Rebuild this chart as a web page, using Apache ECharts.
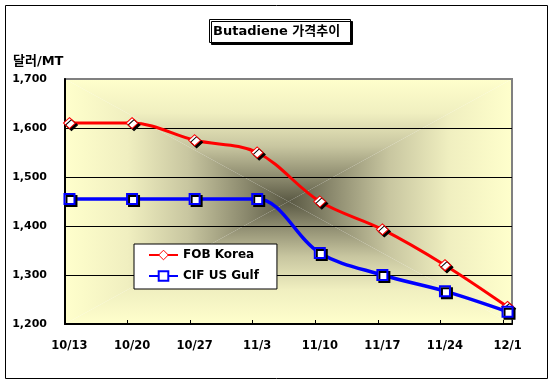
<!DOCTYPE html>
<html>
<head>
<meta charset="utf-8">
<script src="https://cdn.jsdelivr.net/npm/echarts@6/dist/echarts.min.js"></script>
<style>
  html, body { margin: 0; padding: 0; background: #fff; }
  #chart { width: 553px; height: 387px; }
</style>
</head>
<body>
<div id="chart"></div>
<script>
// ---- data ----
var dateLabels = ['10/13', '10/20', '10/27', '11/3', '11/10', '11/17', '11/24', '12/1'];
var fobKorea = [1610, 1610, 1575, 1550, 1450, 1393, 1320, 1235];
var cifUsGulf = [1455, 1455, 1455, 1455, 1345, 1300, 1267, 1225];
var yTicks = [1200, 1300, 1400, 1500, 1600, 1700];
var seriesNames = ['FOB Korea', 'CIF US Gulf'];
var titleText = 'Butadiene 가격추이';
var yUnit = '달러/MT';

// date labels -> day offsets (date axis)
function dayNum(s) {
  var p = s.split('/');
  return Date.UTC(2008, +p[0] - 1, +p[1]) / 86400000;
}
var day0 = dayNum(dateLabels[0]);
var days = dateLabels.map(function (s) { return dayNum(s) - day0; });
var labelOf = {};
days.forEach(function (d, i) { labelOf[d] = dateLabels[i]; });
var spanDays = days[days.length - 1] - days[0] + 1;

// plot area layout (pixels)
var L = 65, T = 79, R = 512, B = 324;
var CX = (L + R) / 2, CY = (T + B) / 2;
var stops = [
  { offset: 0, color: '#FFFFCC' },
  { offset: 0.28, color: '#F0EFC0' },
  { offset: 0.55, color: '#C8C6A0' },
  { offset: 0.8, color: '#8D8B6F' },
  { offset: 1, color: '#5A5944' }
];

var font = '"DejaVu Sans", "Noto Sans CJK KR", sans-serif';
var noShadow = { shadowColor: 'rgba(0,0,0,0)', shadowBlur: 0, shadowOffsetX: 0, shadowOffsetY: 0 };

var chart = echarts.init(document.getElementById('chart'), null, { renderer: 'canvas' });
chart.setOption({
  animation: false,
  backgroundColor: '#fff',
  title: {
    text: titleText,
    left: 209, top: 19,
    padding: [6, 11, 5, 4],
    backgroundColor: '#fff',
    borderColor: '#000', borderWidth: 1,
    shadowColor: '#000', shadowOffsetX: 2, shadowOffsetY: 2, shadowBlur: 0,
    textStyle: { fontFamily: font, fontSize: 13, fontWeight: 'bold', color: '#000' }
  },
  graphic: [
    { type: 'rect', z: -20, shape: { x: 5.5, y: 5.5, width: 542, height: 373 },
      style: { fill: 'none', stroke: '#000', lineWidth: 1 } },
    { type: 'polygon', z: -10, shape: { points: [[L, T], [R, T], [CX, CY]] },
      style: { fill: { type: 'linear', x: 0, y: 0, x2: 0, y2: 1, colorStops: stops } } },
    { type: 'polygon', z: -10, shape: { points: [[L, B], [R, B], [CX, CY]] },
      style: { fill: { type: 'linear', x: 0, y: 1, x2: 0, y2: 0, colorStops: stops } } },
    { type: 'polygon', z: -10, shape: { points: [[L, T], [L, B], [CX, CY]] },
      style: { fill: { type: 'linear', x: 0, y: 0, x2: 1, y2: 0, colorStops: stops } } },
    { type: 'polygon', z: -10, shape: { points: [[R, T], [R, B], [CX, CY]] },
      style: { fill: { type: 'linear', x: 1, y: 0, x2: 0, y2: 0, colorStops: stops } } },
    { type: 'text', left: 13, top: 55,
      style: { text: yUnit, font: 'bold 13px ' + font, fill: '#000' } }
  ],
  grid: {
    left: L, top: T, right: 553 - R, bottom: 387 - B,
    show: true, borderColor: '#808080', borderWidth: 2, backgroundColor: 'transparent'
  },
  legend: {
    left: 134, top: 244,
    orient: 'vertical',
    padding: [5, 18, 7, 14],
    itemGap: 9,
    itemWidth: 29, itemHeight: 12,
    backgroundColor: '#fff',
    borderColor: '#000', borderWidth: 1,
    textStyle: { fontFamily: font, fontSize: 12, fontWeight: 'bold', color: '#000' },
    itemStyle: noShadow,
    lineStyle: noShadow,
    data: [
      { name: seriesNames[0], itemStyle: Object.assign({ color: '#fff', borderColor: '#FF0000', borderWidth: 1 }, noShadow) },
      { name: seriesNames[1], itemStyle: Object.assign({ color: '#fff', borderColor: '#0000FF', borderWidth: 2 }, noShadow) }
    ]
  },
  xAxis: [
    {
      type: 'value',
      min: days[0] - 0.5,
      max: days[days.length - 1] + 0.5,
      axisLine: { show: true, onZero: false, lineStyle: { color: '#000', width: 2 } },
      axisTick: { show: false },
      axisLabel: {
        customValues: days,
        formatter: function (v) { return labelOf[v] || ''; },
        margin: 16,
        fontFamily: font, fontSize: 11.5, fontWeight: 'bold', color: '#000'
      },
      splitLine: { show: false }
    },
    {
      // day-boundary ticks of the date axis (ticks sit between days)
      type: 'value', position: 'bottom',
      min: 0, max: spanDays, interval: 7,
      axisLine: { show: false, onZero: false },
      axisTick: { show: true, inside: true, length: 4, lineStyle: { color: '#000', width: 1 } },
      axisLabel: { show: false },
      splitLine: { show: false }
    }
  ],
  yAxis: {
    type: 'value',
    min: yTicks[0], max: yTicks[yTicks.length - 1], interval: 100,
    axisLine: { show: true, onZero: false, lineStyle: { color: '#000', width: 2 } },
    axisTick: { show: false },
    axisLabel: {
      margin: 18,
      formatter: function (v) { return v.toLocaleString('en-US'); },
      fontFamily: font, fontSize: 11, fontWeight: 'bold', color: '#000'
    },
    splitLine: { show: true, showMaxLine: false, showMinLine: false,
      lineStyle: { color: '#000', width: 1 } }
  },
  series: [
    {
      name: seriesNames[0], type: 'line', smooth: 0.35,
      data: days.map(function (d, i) { return [d, fobKorea[i]]; }),
      symbol: 'diamond', symbolSize: [12, 11],
      lineStyle: { color: '#FF0000', width: 3 },
      itemStyle: { color: '#FFFFFF', borderColor: '#FF0000', borderWidth: 1,
        shadowColor: '#000', shadowOffsetX: 2, shadowOffsetY: 2, shadowBlur: 0 },
      z: 3
    },
    {
      name: seriesNames[1], type: 'line', smooth: 0.35,
      data: days.map(function (d, i) { return [d, cifUsGulf[i]]; }),
      symbol: 'rect', symbolSize: 10,
      lineStyle: { color: '#0000FF', width: 3.5 },
      itemStyle: { color: '#FFFFFF', borderColor: '#0000FF', borderWidth: 2,
        shadowColor: '#000', shadowOffsetX: 2, shadowOffsetY: 2, shadowBlur: 0 },
      z: 3
    }
  ]
});
</script>
</body>
</html>
